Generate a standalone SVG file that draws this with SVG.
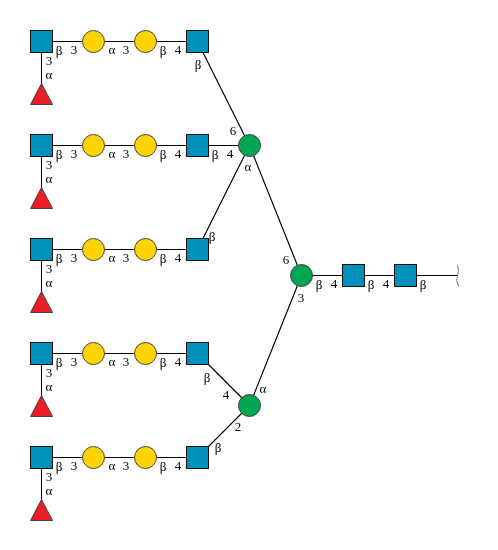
<svg xmlns="http://www.w3.org/2000/svg" width="498" height="550" viewBox="0 0 498 550">
<style>
.s{fill:#0090bc;stroke:#111;stroke-width:1}
.g{fill:#ffd400;stroke:#444;stroke-width:1}
.m{fill:#00a651;stroke:#444;stroke-width:1}
.t{fill:#ed1c24;stroke:#444;stroke-width:1}
.l{stroke:#000;stroke-width:1;fill:none}
.d{stroke:#000;stroke-width:1.2;fill:none}
.q{stroke:#777;stroke-width:1;fill:none}
text{font-family:"Liberation Serif","DejaVu Serif",serif;font-size:13px;fill:#000;text-anchor:middle}
</style>
<defs>
<rect id="sq" class="s" x="-11" y="-11" width="22" height="22"/>
<circle id="ga" class="g" cx="0" cy="0" r="11"/>
<circle id="ma" class="m" cx="0" cy="0" r="11"/>
<polygon id="tr" class="t" points="0,-11 11,10 -11,10"/>
<filter id="gray" x="0" y="0" width="1" height="1" filterUnits="objectBoundingBox" color-interpolation-filters="sRGB"><feOffset dx="0" dy="0"/></filter>
</defs>
<rect width="498" height="550" fill="#fff"/>
<g transform="translate(0.5 0.5)">
<g id="connectors">
<path class="l" d="M41 41H197M41 41V94M41 145H249M41 145V198M41 249H197M41 249V302M41 353H197M41 353V406M41 457H197M41 457V510"/>
<path class="d" d="M197 41L249 145L197 249M249 145L301 275L249 405M197 353L249 405L197 457"/>
<path class="l" d="M301 275H457"/>
<path class="q" d="M457 265Q459 270 457 275Q455 280 458 286"/>
</g>
<g id="n1a"><use href="#sq" x="41" y="41"/></g><g id="n1b"><use href="#ga" x="93" y="41"/></g><g id="n1c"><use href="#ga" x="145" y="41"/></g><g id="n1d"><use href="#sq" x="197" y="41"/></g><g id="n1e"><use href="#tr" x="41" y="94"/></g>
<g id="n2a"><use href="#sq" x="41" y="145"/></g><g id="n2b"><use href="#ga" x="93" y="145"/></g><g id="n2c"><use href="#ga" x="145" y="145"/></g><g id="n2d"><use href="#sq" x="197" y="145"/></g><g id="n2e"><use href="#tr" x="41" y="198"/></g>
<g id="n3a"><use href="#sq" x="41" y="249"/></g><g id="n3b"><use href="#ga" x="93" y="249"/></g><g id="n3c"><use href="#ga" x="145" y="249"/></g><g id="n3d"><use href="#sq" x="197" y="249"/></g><g id="n3e"><use href="#tr" x="41" y="302"/></g>
<g id="n4a"><use href="#sq" x="41" y="353"/></g><g id="n4b"><use href="#ga" x="93" y="353"/></g><g id="n4c"><use href="#ga" x="145" y="353"/></g><g id="n4d"><use href="#sq" x="197" y="353"/></g><g id="n4e"><use href="#tr" x="41" y="406"/></g>
<g id="n5a"><use href="#sq" x="41" y="457"/></g><g id="n5b"><use href="#ga" x="93" y="457"/></g><g id="n5c"><use href="#ga" x="145" y="457"/></g><g id="n5d"><use href="#sq" x="197" y="457"/></g><g id="n5e"><use href="#tr" x="41" y="510"/></g>
<g id="man1"><use href="#ma" x="249" y="145"/></g>
<g id="man2"><use href="#ma" x="249" y="405"/></g>
<g id="man3"><use href="#ma" x="301" y="275"/></g>
<g id="core1"><use href="#sq" x="353" y="275"/></g>
<g id="core2"><use href="#sq" x="405" y="275"/></g>
</g>
<g id="labels" filter="url(#gray)">
<g id="row1"><text x="59" y="55">β</text><text x="74" y="54">3</text><text x="112" y="54">α</text><text x="126" y="54">3</text><text x="163" y="55">β</text><text x="178" y="54">4</text><text x="49" y="65">3</text><text x="49" y="79">α</text></g>
<g id="row2"><text x="59" y="159">β</text><text x="74" y="158">3</text><text x="112" y="158">α</text><text x="126" y="158">3</text><text x="163" y="159">β</text><text x="178" y="158">4</text><text x="49" y="169">3</text><text x="49" y="183">α</text></g>
<g id="row3"><text x="59" y="263">β</text><text x="74" y="262">3</text><text x="112" y="262">α</text><text x="126" y="262">3</text><text x="163" y="263">β</text><text x="178" y="262">4</text><text x="49" y="273">3</text><text x="49" y="287">α</text></g>
<g id="row4"><text x="59" y="367">β</text><text x="74" y="366">3</text><text x="112" y="366">α</text><text x="126" y="366">3</text><text x="163" y="367">β</text><text x="178" y="366">4</text><text x="49" y="377">3</text><text x="49" y="391">α</text></g>
<g id="row5"><text x="59" y="471">β</text><text x="74" y="470">3</text><text x="112" y="470">α</text><text x="126" y="470">3</text><text x="163" y="471">β</text><text x="178" y="470">4</text><text x="49" y="481">3</text><text x="49" y="495">α</text></g>
<text x="198" y="69">β</text><text x="233" y="135">6</text><text x="215" y="159">β</text><text x="230" y="158">4</text><text x="248" y="171">α</text>
<text x="212" y="241">β</text><text x="286" y="264">6</text><text x="319" y="289">β</text><text x="334" y="288">4</text><text x="371" y="289">β</text><text x="386" y="288">4</text><text x="423" y="289">β</text><text x="301" y="302">3</text>
<text x="207" y="382">β</text><text x="226" y="399">4</text><text x="263" y="393">α</text><text x="238" y="431">2</text><text x="218" y="452">β</text>
</g>
</svg>
